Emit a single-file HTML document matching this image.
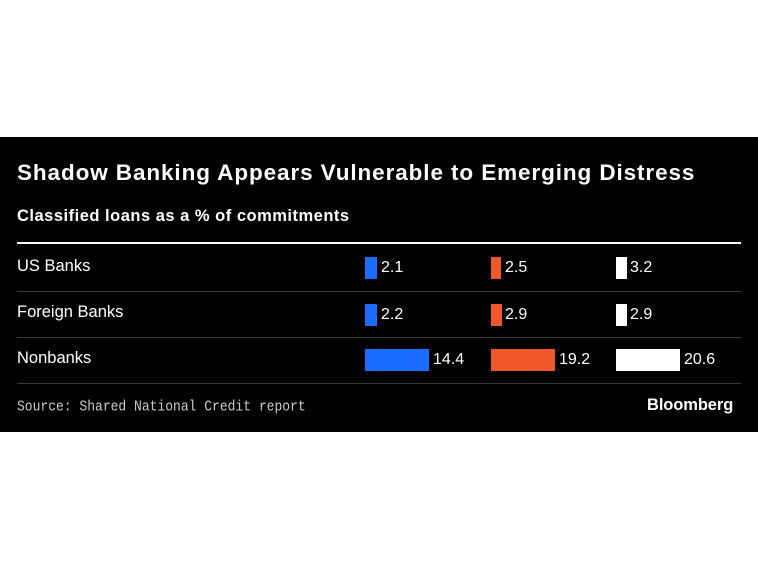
<!DOCTYPE html>
<html><head><style>
body{margin:0;width:758px;height:569px;background:#fff;position:relative;overflow:hidden;font-family:"Liberation Sans",sans-serif}
#p{position:absolute;left:0;top:137px;width:758px;height:295px;background:#000;color:#fff}
.a{position:absolute;white-space:nowrap}
.ln{position:absolute;left:17px;width:724px;height:1px;background:#3a3a3a}
.b{position:absolute;height:22px}
.v{position:absolute;font-size:16px;color:#fff}
</style></head><body>
<div id="p">
<div class="a" style="left:17px;top:23px;font-size:22.5px;font-weight:bold;letter-spacing:0.9px">Shadow Banking Appears Vulnerable to Emerging Distress</div>
<div class="a" style="left:17px;top:70px;font-size:16.5px;font-weight:bold;letter-spacing:0.5px">Classified loans as a % of commitments</div>
<div class="ln" style="top:105px;height:2px;background:#fff"></div>
<div class="a" style="left:17px;top:120px;font-size:16.5px">US Banks</div>
<div class="a" style="left:17px;top:166px;font-size:16.5px">Foreign Banks</div>
<div class="a" style="left:17px;top:212px;font-size:16.5px">Nonbanks</div>
<div class="ln" style="top:154px"></div>
<div class="ln" style="top:200px"></div>
<div class="ln" style="top:246px"></div>

<div class="b" style="left:365px;top:120px;width:12px;background:#1a6cff"></div><div class="v" style="left:381px;top:122px">2.1</div>
<div class="b" style="left:491px;top:120px;width:10px;background:#f0572b"></div><div class="v" style="left:505px;top:122px">2.5</div>
<div class="b" style="left:616px;top:120px;width:11px;background:#fff"></div><div class="v" style="left:630px;top:122px">3.2</div>

<div class="b" style="left:365px;top:167px;width:12px;background:#1a6cff"></div><div class="v" style="left:381px;top:169px">2.2</div>
<div class="b" style="left:491px;top:167px;width:11px;background:#f0572b"></div><div class="v" style="left:505px;top:169px">2.9</div>
<div class="b" style="left:616px;top:167px;width:11px;background:#fff"></div><div class="v" style="left:630px;top:169px">2.9</div>

<div class="b" style="left:365px;top:212px;width:64px;background:#1a6cff"></div><div class="v" style="left:433px;top:214px">14.4</div>
<div class="b" style="left:491px;top:212px;width:64px;background:#f0572b"></div><div class="v" style="left:559px;top:214px">19.2</div>
<div class="b" style="left:616px;top:212px;width:64px;background:#fff"></div><div class="v" style="left:684px;top:214px">20.6</div>

<div class="a" style="left:17px;top:261px;font-family:'Liberation Mono',monospace;font-size:13px;color:#ccc;transform:scaleY(1.15);transform-origin:left top">Source: Shared National Credit report</div>
<div class="a" style="left:647px;top:259px;font-size:16.5px;font-weight:bold;letter-spacing:-0.1px">Bloomberg</div>
</div>
</body></html>
